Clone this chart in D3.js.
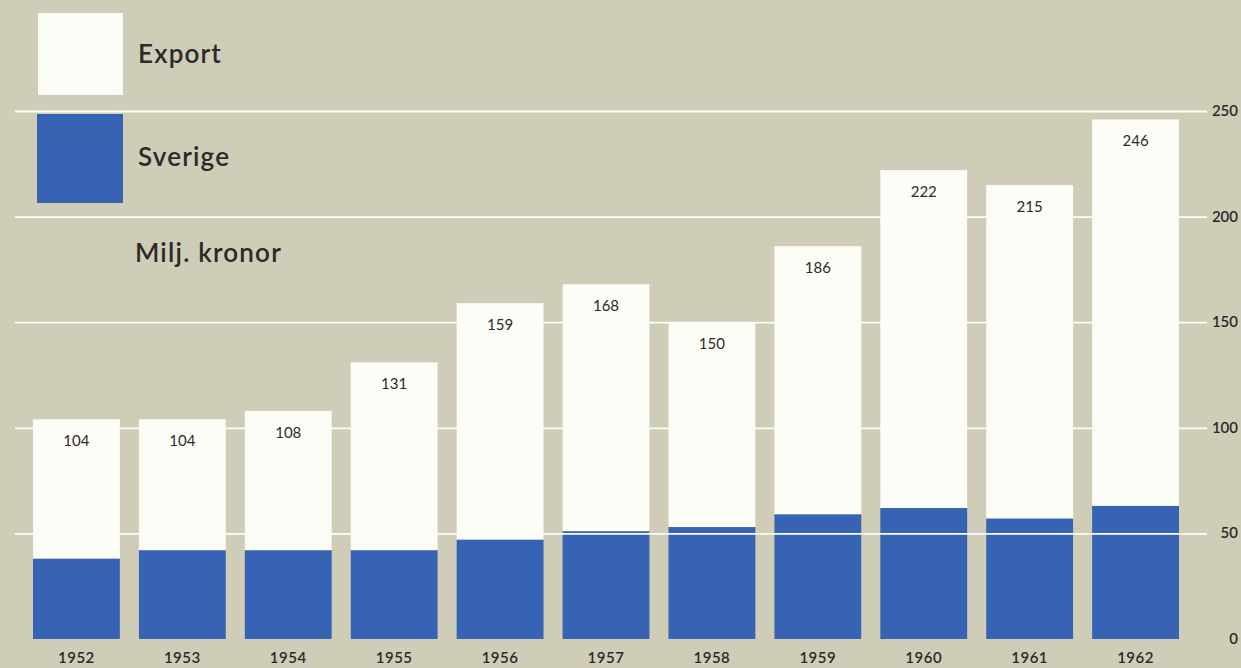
<!DOCTYPE html>
<html>
<head>
<meta charset="utf-8">
<script src="https://cdn.jsdelivr.net/npm/d3@7"></script>
<style>
  html, body { margin: 0; padding: 0; background: #cfccb8; }
  svg { display: block; }
  text { font-family: "Lato", "Open Sans", sans-serif; fill: #2b2a28; }
</style>
</head>
<body>
<div id="chart"></div>
<script>
const YEARS = ["1952", "1953", "1954", "1955", "1956", "1957", "1958", "1959", "1960", "1961", "1962"];
const TOTALS = [104, 104, 108, 131, 159, 168, 150, 186, 222, 215, 246];
const SVERIGE = [38, 42, 42, 42, 47, 51, 53, 59, 62, 57, 63];
const EXPORT = TOTALS.map((t, i) => t - SVERIGE[i]);
const Y_TICKS = [0, 50, 100, 150, 200, 250];

const WIDTH = 1241;
const HEIGHT = 668;
const BG = "#cfccb8";
const BLUE = "#3663b4";
const WHITE = "#fdfdf7";

const dataset = YEARS.map((y, i) => ({ year: y, sverige: SVERIGE[i], export: EXPORT[i], total: TOTALS[i] }));

const X_SCALE = d3.scaleBand()
                  .domain(YEARS)
                  .range([33, 1179])
                  .paddingInner(0.18)
                  .paddingOuter(0);

const Y_SCALE = d3.scaleLinear()
                  .domain([0, 250])
                  .range([639, 111]);

const svg = d3.select("#chart")
              .append("svg")
              .attr("width", WIDTH)
              .attr("height", HEIGHT);

svg.append("rect")
   .attr("width", WIDTH)
   .attr("height", HEIGHT)
   .attr("fill", BG);

// stacked bars: Sverige at the bottom, Export on top
const stack = d3.stack().keys(["sverige", "export"]);
const layers = stack(dataset);

svg.append("g")
   .selectAll("rect")
   .data(layers[1])
   .enter()
   .append("rect")
   .attr("x", (d) => X_SCALE(d.data.year))
   .attr("y", (d) => Y_SCALE(d[1]))
   .attr("width", X_SCALE.bandwidth())
   .attr("height", (d) => Y_SCALE(d[0]) - Y_SCALE(d[1]))
   .attr("fill", WHITE);

svg.append("g")
   .selectAll("rect")
   .data(layers[0])
   .enter()
   .append("rect")
   .attr("x", (d) => X_SCALE(d.data.year))
   .attr("y", (d) => Y_SCALE(d[1]))
   .attr("width", X_SCALE.bandwidth())
   .attr("height", (d) => Y_SCALE(d[0]) - Y_SCALE(d[1]))
   .attr("fill", BLUE);

// gridlines over everything (white on white disappears)
const Y_AXIS = d3.axisRight(Y_SCALE)
                 .tickValues(Y_TICKS.filter((v) => v > 0))
                 .tickSize(-1192)
                 .tickFormat("");

svg.append("g")
   .attr("transform", "translate(1207,0)")
   .call(Y_AXIS)
   .call((g) => g.select(".domain").remove())
   .call((g) => g.selectAll("line").attr("stroke", WHITE).attr("stroke-width", 1.8));

svg.append("g")
   .selectAll("text")
   .data(Y_TICKS)
   .enter()
   .append("text")
   .attr("x", 1238)
   .attr("y", (d) => Y_SCALE(d) + 5)
   .attr("text-anchor", "end")
   .attr("font-size", "15px")
   .attr("font-weight", 600)
   .text((d) => d);

// value labels
svg.append("g")
   .selectAll("text")
   .data(dataset)
   .enter()
   .append("text")
   .attr("x", (d) => X_SCALE(d.year) + X_SCALE.bandwidth() / 2)
   .attr("y", (d) => Y_SCALE(d.total) + 27)
   .attr("text-anchor", "middle")
   .attr("font-size", "15px")
   .text((d) => d.total);

// year labels
svg.append("g")
   .selectAll("text")
   .data(YEARS)
   .enter()
   .append("text")
   .attr("x", (d) => X_SCALE(d) + X_SCALE.bandwidth() / 2)
   .attr("y", 663)
   .attr("text-anchor", "middle")
   .attr("font-size", "15px")
   .attr("font-weight", 600)
   .attr("letter-spacing", "0.5px")
   .text((d) => d);

// legend
svg.append("rect").attr("x", 38).attr("y", 13).attr("width", 85).attr("height", 82).attr("fill", WHITE);
svg.append("rect").attr("x", 37).attr("y", 114).attr("width", 86).attr("height", 89).attr("fill", BLUE);
const legendText = [["Export", 138, 63], ["Sverige", 138, 166], ["Milj. kronor", 135, 262]];
svg.append("g")
   .selectAll("text")
   .data(legendText)
   .enter()
   .append("text")
   .attr("x", (d) => d[1])
   .attr("y", (d) => d[2])
   .attr("font-size", "26px")
   .attr("font-weight", 600)
   .attr("letter-spacing", "1.2px")
   .text((d) => d[0]);
</script>
</body>
</html>
